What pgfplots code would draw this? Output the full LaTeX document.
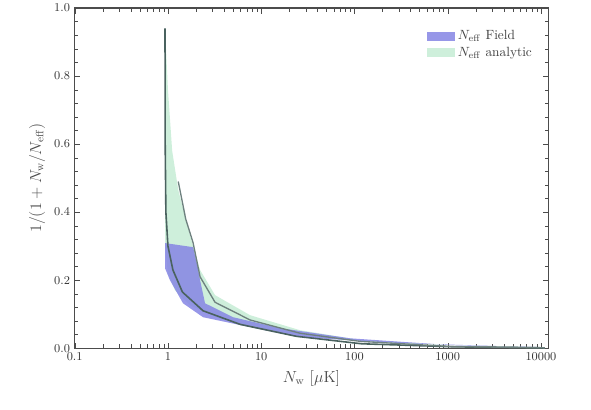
\documentclass[border=0pt]{standalone}
\usepackage{pgfplots}
\pgfplotsset{compat=1.18}
\definecolor{fieldblue}{HTML}{8585E4}
\definecolor{anagreen}{HTML}{C2EBD2}
\definecolor{darkline}{HTML}{4A625F}
\begin{document}
\begin{tikzpicture}
\begin{axis}[
  name=ax,
  scale only axis,
  width=355pt, height=255pt,
  xmode=log,
  xmin=0.1, xmax=12000,
  ymin=0, ymax=1,
  xtick={0.1,1,10,100,1000,10000},
  xticklabels={0.1,1,10,100,1000,10000},
  ytick={0,0.2,0.4,0.6,0.8,1.0},
  yticklabel style={/pgf/number format/fixed,/pgf/number format/fixed zerofill,/pgf/number format/precision=1},
  minor y tick num=4,
  axis line style={draw=black!70, line width=1pt},
  tick style={black!70},
  xlabel={$N_{\rm w}$ [$\mu$K]},
  ylabel={$1/(1+N_{\rm w}/N_{\rm eff})$},
  ylabel style={black!70, font=\large},
  xlabel style={black!70, font=\large},
  ticklabel style={font=\small, black!80},
  legend style={at={(0.98,0.95)}, anchor=north east, draw=none, fill=white, font=\normalsize, text=black!75},
  legend cell align=left,
  reverse legend,
  legend image code/.code={\fill[#1] (0cm,-0.12cm) rectangle (0.75cm,0.12cm);},
]
% analytic band (green)
\addplot[fill=anagreen, draw=none, fill opacity=0.8] coordinates {
(0.93,0.94)(1.0,0.76)(1.11,0.58)(1.29,0.465)(1.73,0.33)(2.21,0.23)(3.2,0.156)(7.6,0.097)(26,0.053)(116,0.024)(1080,0.009)(11000,0.003)
(11000,0.002)(2380,0.006)(238,0.015)(36,0.032)(9.5,0.059)(3.57,0.088)(1.73,0.126)(1.19,0.17)(1.0,0.22)(0.93,0.30)} -- cycle;
\addlegendentry{$N_{\rm eff}$ analytic}
% field band (blue): upper edge left->right, lower edge right->left
\addplot[fill=fieldblue, draw=none, fill opacity=0.85] coordinates {
(0.93,0.309)(1.86,0.297)(2.08,0.240)(2.21,0.200)(2.5,0.132)(5.0,0.091)(16,0.059)(90,0.029)(1080,0.009)(11000,0.003)
(11000,0.002)(3700,0.006)(312,0.015)(26,0.032)(7.6,0.062)(2.38,0.091)(1.45,0.132)(1.05,0.200)(0.93,0.235)} -- cycle;
\addlegendentry{$N_{\rm eff}$ Field}
% dark lines
\addplot[darkline, line width=1.2pt, forget plot] coordinates {
(0.93,0.94)(0.934,0.6)(0.95,0.40)(1.0,0.30)(1.13,0.23)(1.43,0.165)(2.38,0.11)(5.95,0.07)(23.8,0.035)(119,0.013)(1190,0.004)(11000,0.001)};
\addplot[darkline!80, line width=1.0pt, forget plot] coordinates {
(1.29,0.49)(1.55,0.38)(1.86,0.31)(2.21,0.21)(3.2,0.135)(7.6,0.083)(26,0.044)(116,0.020)(1080,0.005)(11000,0.001)};
\end{axis}
\pgfresetboundingbox
\path[use as bounding box] ([shift={(-56pt,-46pt)}]ax.south west) rectangle ([shift={(32pt,6pt)}]ax.north east);
\end{tikzpicture}
\end{document}
